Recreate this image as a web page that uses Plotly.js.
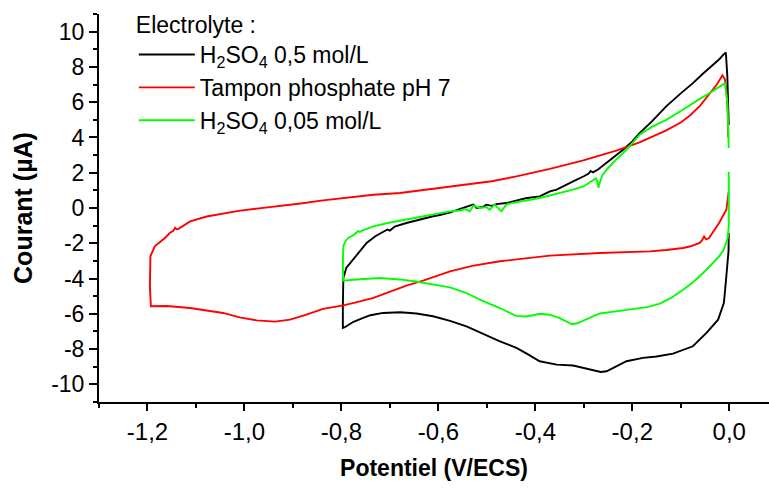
<!DOCTYPE html>
<html>
<head>
<meta charset="utf-8">
<script src="https://cdn.plot.ly/plotly-3.0.1.min.js"></script>
<style>html,body{margin:0;padding:0;background:#fff;}#chart{width:769px;height:491px;}</style>
</head>
<body>
<div id="chart"></div>
<script>
// Series names
const seriesNames = ['H<sub>2</sub>SO<sub>4</sub> 0,5 mol/L', 'Tampon phosphate pH 7', 'H<sub>2</sub>SO<sub>4</sub> 0,05 mol/L'];

// H2SO4 0.5 mol/L (black)
const blackV = [-0.001,-0.0015,-0.006,-0.011,-0.023,-0.047,-0.075,-0.116,-0.150,-0.178,-0.212,-0.240,-0.253,-0.265,-0.280,-0.295,-0.322,-0.356,-0.391,-0.415,-0.439,-0.473,-0.508,-0.542,-0.576,-0.611,-0.645,-0.679,-0.714,-0.740,-0.755,-0.775,-0.793,-0.797,-0.797,-0.797,-0.796,-0.790,-0.776,-0.762,-0.748,-0.730,-0.714,-0.705,-0.700,-0.690,-0.666,-0.640,-0.611,-0.597,-0.575,-0.555,-0.542,-0.535,-0.528,-0.521,-0.508,-0.501,-0.490,-0.480,-0.460,-0.446,-0.420,-0.391,-0.370,-0.356,-0.345,-0.322,-0.300,-0.290,-0.286,-0.281,-0.270,-0.253,-0.236,-0.219,-0.200,-0.185,-0.160,-0.130,-0.100,-0.075,-0.055,-0.033,-0.020,-0.012,-0.007,-0.004,-0.002,-0.001];
const blackI = [-1.42,-2.46,-3.87,-5.38,-6.33,-7.08,-7.84,-8.26,-8.42,-8.50,-8.69,-9.07,-9.26,-9.30,-9.20,-9.07,-8.93,-8.88,-8.69,-8.30,-7.93,-7.56,-7.15,-6.71,-6.40,-6.14,-5.98,-5.91,-5.95,-6.08,-6.23,-6.45,-6.76,-6.80,-5.50,-4.50,-3.97,-3.40,-2.93,-2.40,-1.98,-1.60,-1.38,-1.22,-1.28,-1.05,-0.85,-0.65,-0.47,-0.40,-0.25,-0.05,0.09,0.13,0.19,0.00,0.06,0.19,0.12,0.22,0.28,0.37,0.55,0.66,0.94,1.04,1.20,1.51,1.80,1.95,2.10,2.02,2.20,2.55,2.90,3.30,3.78,4.25,4.90,5.76,6.50,7.08,7.60,8.12,8.45,8.70,8.82,7.50,6.00,4.70];

// Tampon phosphate pH 7 (red)
const redV = [-0.001,-0.006,-0.021,-0.035,-0.042,-0.048,-0.052,-0.056,-0.061,-0.080,-0.095,-0.130,-0.164,-0.267,-0.370,-0.473,-0.530,-0.576,-0.597,-0.630,-0.666,-0.700,-0.734,-0.770,-0.796,-0.838,-0.872,-0.906,-0.937,-0.975,-1.010,-1.044,-1.080,-1.112,-1.160,-1.193,-1.195,-1.195,-1.194,-1.185,-1.164,-1.154,-1.147,-1.143,-1.140,-1.136,-1.112,-1.078,-1.040,-1.009,-0.970,-0.934,-0.880,-0.838,-0.734,-0.679,-0.597,-0.542,-0.490,-0.439,-0.370,-0.301,-0.233,-0.185,-0.130,-0.100,-0.081,-0.060,-0.047,-0.026,-0.014,-0.009,-0.006,-0.003,-0.002];
const redI = [0.94,-0.10,-0.85,-1.45,-1.72,-1.78,-1.62,-1.82,-1.98,-2.17,-2.27,-2.38,-2.46,-2.55,-2.70,-3.02,-3.28,-3.59,-3.80,-4.10,-4.40,-4.75,-5.10,-5.35,-5.52,-5.72,-6.05,-6.33,-6.44,-6.37,-6.20,-5.95,-5.78,-5.67,-5.56,-5.57,-4.50,-3.50,-2.74,-2.17,-1.70,-1.42,-1.30,-1.12,-1.20,-1.18,-0.76,-0.48,-0.28,-0.15,-0.02,0.09,0.27,0.43,0.75,0.85,1.13,1.30,1.52,1.79,2.22,2.70,3.25,3.72,4.40,4.85,5.25,5.80,6.23,6.99,7.52,7.30,6.70,5.50,4.00];

// H2SO4 0.05 mol/L (green)
const greenV = [-0.001,-0.001,-0.001,-0.003,-0.006,-0.012,-0.021,-0.047,-0.070,-0.095,-0.120,-0.143,-0.170,-0.198,-0.230,-0.267,-0.285,-0.300,-0.315,-0.325,-0.335,-0.350,-0.370,-0.390,-0.405,-0.420,-0.440,-0.460,-0.473,-0.510,-0.542,-0.576,-0.611,-0.650,-0.680,-0.721,-0.769,-0.796,-0.797,-0.796,-0.792,-0.786,-0.776,-0.769,-0.765,-0.762,-0.755,-0.734,-0.700,-0.666,-0.630,-0.597,-0.576,-0.556,-0.545,-0.535,-0.528,-0.514,-0.501,-0.494,-0.484,-0.470,-0.460,-0.449,-0.391,-0.322,-0.301,-0.285,-0.275,-0.272,-0.270,-0.267,-0.262,-0.253,-0.235,-0.212,-0.185,-0.160,-0.130,-0.100,-0.081,-0.060,-0.040,-0.020,-0.009,-0.004,-0.002,-0.001];
const greenI = [2.06,0.50,-1.00,-1.70,-1.98,-2.40,-2.74,-3.50,-4.10,-4.63,-5.10,-5.42,-5.62,-5.74,-5.85,-5.98,-6.20,-6.40,-6.55,-6.58,-6.45,-6.25,-6.05,-6.00,-6.08,-6.15,-6.12,-5.85,-5.67,-5.25,-4.82,-4.50,-4.33,-4.15,-4.05,-3.97,-4.05,-4.12,-3.30,-2.17,-1.90,-1.70,-1.55,-1.42,-1.30,-1.35,-1.25,-1.04,-0.82,-0.65,-0.45,-0.30,-0.19,-0.14,-0.06,-0.19,0.13,0.00,0.06,-0.10,0.19,-0.19,0.19,0.28,0.57,1.04,1.22,1.50,1.68,1.50,1.15,1.45,1.85,2.17,2.70,3.30,4.15,4.60,5.00,5.50,5.85,6.20,6.52,6.85,7.08,6.00,4.80,3.40];

// Tick labels
const xTickVals = [-1.2, -1.0, -0.8, -0.6, -0.4, -0.2, 0.0];
const xTickText = ['-1,2', '-1,0', '-0,8', '-0,6', '-0,4', '-0,2', '0,0'];
const xMinorVals = [-1.3, -1.1, -0.9, -0.7, -0.5, -0.3, -0.1];
const yTickVals = [-10, -8, -6, -4, -2, 0, 2, 4, 6, 8, 10];
const yTickText = ['-10', '-8', '-6', '-4', '-2', '0', '2', '4', '6', '8', '10'];
const yMinorVals = [-11, -9, -7, -5, -3, -1, 1, 3, 5, 7, 9, 11];

const FONT = 'Liberation Sans, Arial, sans-serif';
const colors = ['#000000', '#ff0000', '#00ff00'];
const xs = [blackV, redV, greenV];
const ys = [blackI, redI, greenI];

const traces = xs.map((x, k) => ({
  type: 'scatter', mode: 'lines', x: x, y: ys[k], name: seriesNames[k],
  line: {color: colors[k], width: 1.9}
}));

const layout = {
  width: 769, height: 491,
  margin: {l: 99, r: 0, t: 14, b: 89},
  paper_bgcolor: '#fff', plot_bgcolor: '#fff',
  font: {family: FONT, size: 22, color: '#000'},
  showlegend: true,
  legend: {
    x: 0.052, xanchor: 'left', y: 1.028, yanchor: 'top',
    bgcolor: 'rgba(0,0,0,0)', borderwidth: 0,
    font: {family: FONT, size: 23, color: '#000'},
    title: {text: 'Electrolyte :', side: 'top', font: {family: FONT, size: 23, color: '#000'}},
    itemwidth: 56, tracegroupgap: 0
  },
  xaxis: {
    range: [-1.3, 0.082], autorange: false,
    showgrid: false, zeroline: false,
    showline: true, linecolor: '#000', linewidth: 2,
    ticks: 'outside', ticklen: 7, tickwidth: 2, tickcolor: '#000',
    tickmode: 'array', tickvals: xTickVals, ticktext: xTickText,
    tickfont: {family: FONT, size: 24, color: '#000'},
    minor: {tickmode: 'array', tickvals: xMinorVals, ticks: 'outside', ticklen: 4, tickwidth: 2, tickcolor: '#000', showgrid: false},
    title: {text: 'Potentiel (V/ECS)', font: {family: FONT, size: 23, color: '#000', weight: 'bold'}, standoff: 16}
  },
  yaxis: {
    range: [-11, 11], autorange: false,
    showgrid: false, zeroline: false,
    showline: true, linecolor: '#000', linewidth: 2,
    ticks: 'outside', ticklen: 8, tickwidth: 2, tickcolor: '#000',
    tickmode: 'array', tickvals: yTickVals, ticktext: yTickText,
    tickfont: {family: FONT, size: 23, color: '#000'},
    minor: {tickmode: 'array', tickvals: yMinorVals, ticks: 'outside', ticklen: 4, tickwidth: 2, tickcolor: '#000', showgrid: false},
    title: {text: 'Courant (µA)', font: {family: FONT, size: 25, color: '#000', weight: 'bold'}, standoff: 11}
  }
};

Plotly.newPlot('chart', traces, layout, {displayModeBar: false, staticPlot: true});
</script>
</body>
</html>
